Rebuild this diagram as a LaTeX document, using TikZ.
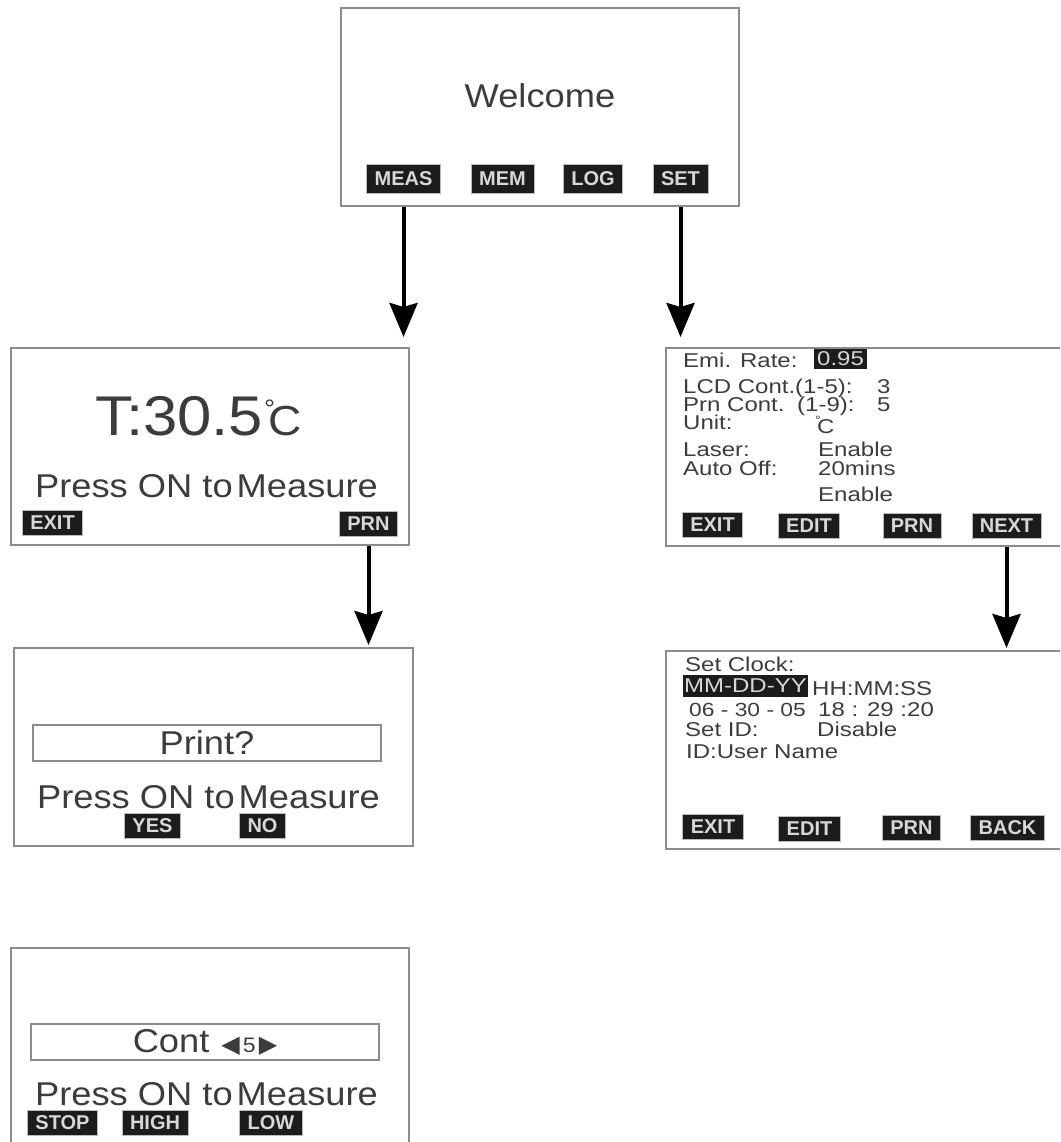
\documentclass[tikz,border=0pt]{standalone}
\usepackage{fontspec}
\setmainfont{Liberation Sans}
\newfontfamily\lcdbig{Liberation Sans}[FakeStretch=1.1]
\newfontfamily\lcdsmall{Liberation Sans}[FakeStretch=1.2]
\newfontfamily\lcdsym{DejaVu Sans}
\usetikzlibrary{arrows.meta}
\definecolor{lcd-ink}{HTML}{3C3C3C}
\definecolor{lcd-frame}{HTML}{8C8C8C}
\definecolor{key-fill}{HTML}{1C1C1C}
\definecolor{key-text}{HTML}{D8D8D8}
\newcommand{\fs}[1]{\fontsize{#1}{#1}\selectfont}
\newcommand{\celsius}{\rlap{\raisebox{0.42em}{\scalebox{0.6}{°}}}\kern0.1em C}
\newcommand{\pressmsg}{Press ON to\hspace{4pt}Measure}

\begin{document}
\begin{tikzpicture}[x=1pt, y=-1pt,
  screen/.style={draw=lcd-frame, line width=2pt, anchor=north west, inner sep=0pt},
  field/.style={draw=lcd-frame, line width=1.5pt, inner sep=0pt, minimum width=348pt, minimum height=36pt, text=lcd-ink, font=\lcdbig\fs{33}},
  key/.style={fill=key-fill, draw=lcd-frame!60, line width=0.6pt, text=key-text, font=\bfseries\fs{20}, inner xsep=8pt, inner ysep=0pt, minimum height=25pt},
  big/.style={text=lcd-ink, font=\lcdbig\fs{33}, anchor=base, inner sep=0pt},
  small/.style={text=lcd-ink, font=\lcdsmall\fs{20}, anchor=base west, inner sep=0pt},
  hilite/.style={fill=key-fill, text=key-text, font=\lcdsmall\fs{20}, inner sep=0pt},
  flow/.style={line width=4pt, -{Stealth[width=28pt,length=34pt,inset=4pt]}}]
  \useasboundingbox (0,0) rectangle (1060,1142);
  \clip (0,0) rectangle (1060,1142);

  % screens
  \node[screen, minimum width=398pt, minimum height=198pt] (welcome) at (340,7) {};
  \node[screen, minimum width=398pt, minimum height=197pt] (measure) at (10,347) {};
  \node[screen, minimum width=415pt, minimum height=198pt] (settings) at (665,347) {};
  \node[screen, minimum width=399pt, minimum height=198pt] (print) at (13,647) {};
  \node[screen, minimum width=415pt, minimum height=198pt] (clock) at (665,650) {};
  \node[screen, minimum width=398pt, minimum height=220pt] (contrast) at (10,947) {};

  % welcome screen
  \node[big] (welcometext) at (540,108) {Welcome};
  \node[key, minimum height=29pt] (meas) at (403.5,178.5) {MEAS};
  \node[key, minimum height=29pt] (mem) at (502.5,178.5) {MEM};
  \node[key, minimum height=29pt] (log) at (593,178.5) {LOG};
  \node[key, minimum height=29pt] (set) at (680.5,178.5) {SET};

  % measuring screen
  \node[big, anchor=base west, font=\lcdbig\fs{56}] (temp) at (95,435) {T:30.5\kern1pt{\fs{42}\celsius}};
  \node[big] (press1) at (206.5,497) {\pressmsg};
  \node[key] (exit1) at (52.5,522.5) {EXIT};
  \node[key] (prn1) at (368.5,523.5) {PRN};

  % print screen
  \node[field] (printq) at (207,743) {Print?};
  \node[big] (press2) at (208.5,808) {\pressmsg};
  \node[key] (yes) at (152.5,825.5) {YES};
  \node[key] (no) at (262.5,825.5) {NO};

  % contrast screen
  \node[field] (cont) at (205,1042) {Cont\hspace{12pt}{\lcdsym\fs{24}◀}\kern3pt{\fs{21}5}\kern3pt{\lcdsym\fs{24}▶}};
  \node[big] (press3) at (206.5,1105) {\pressmsg};
  \node[key] (stop) at (62.5,1122.5) {STOP};
  \node[key] (high) at (155,1122.5) {HIGH};
  \node[key] (low) at (271,1122.5) {LOW};

  % settings screen
  \node[small] (emi) at (683,367) {Emi. Rate:};
  \node[hilite, minimum width=53pt, minimum height=20pt] (emival) at (840.5,359) {0.95};
  \node[small] (lcd) at (683,393) {LCD Cont.};
  \node[small] (lcdrange) at (795,393) {(1-5):};
  \node[small] (lcdval) at (877,393) {3};
  \node[small] (prn) at (683,411) {Prn Cont.};
  \node[small] (prnrange) at (797,411) {(1-9):};
  \node[small] (prnval) at (877,411) {5};
  \node[small] (unit) at (683,429) {Unit:};
  \node[small] (unitval) at (815,433) {\celsius};
  \node[small] (laser) at (683,456) {Laser:};
  \node[small] (laserval) at (818,456) {Enable};
  \node[small] (autooff) at (683,475) {Auto Off:};
  \node[small] (autoval) at (818,475) {20mins};
  \node[small] (autoen) at (818,501) {Enable};
  \node[key] (exit2) at (712.5,524.5) {EXIT};
  \node[key] (edit2) at (809,526) {EDIT};
  \node[key] (prn2) at (912,525.5) {PRN};
  \node[key] (next) at (1006.5,525.5) {NEXT};

  % clock screen
  \node[small] (setclock) at (685,671) {Set Clock:};
  \node[hilite, minimum width=125pt, minimum height=22pt] (datefmt) at (745.5,686) {MM-DD-YY};
  \node[small] (timefmt) at (812,695) {HH:MM:SS};
  \node[small, font=\lcdsmall\fs{19}] (date) at (689,716) {06 - 30 - 05};
  \node[small] (time) at (818,716) {18 : 29 :20};
  \node[small] (setid) at (685,736) {Set ID:};
  \node[small] (idval) at (817,736) {Disable};
  \node[small] (idname) at (686,758) {ID:User Name};
  \node[key] (exit3) at (713,827) {EXIT};
  \node[key] (edit3) at (809.5,828.5) {EDIT};
  \node[key] (prn3) at (911.5,827.5) {PRN};
  \node[key] (back) at (1007.5,828) {BACK};

  % arrows
  \draw[flow, shorten >=10pt] (meas |- welcome.south) -- (meas |- measure.north);
  \draw[flow, shorten >=10pt] (set |- welcome.south) -- (set |- settings.north);
  \draw[flow, shorten >=2pt] (prn1 |- measure.south) -- (prn1 |- print.north);
  \draw[flow, shorten >=2pt] (next |- settings.south) -- (next |- clock.north);
\end{tikzpicture}
\end{document}
